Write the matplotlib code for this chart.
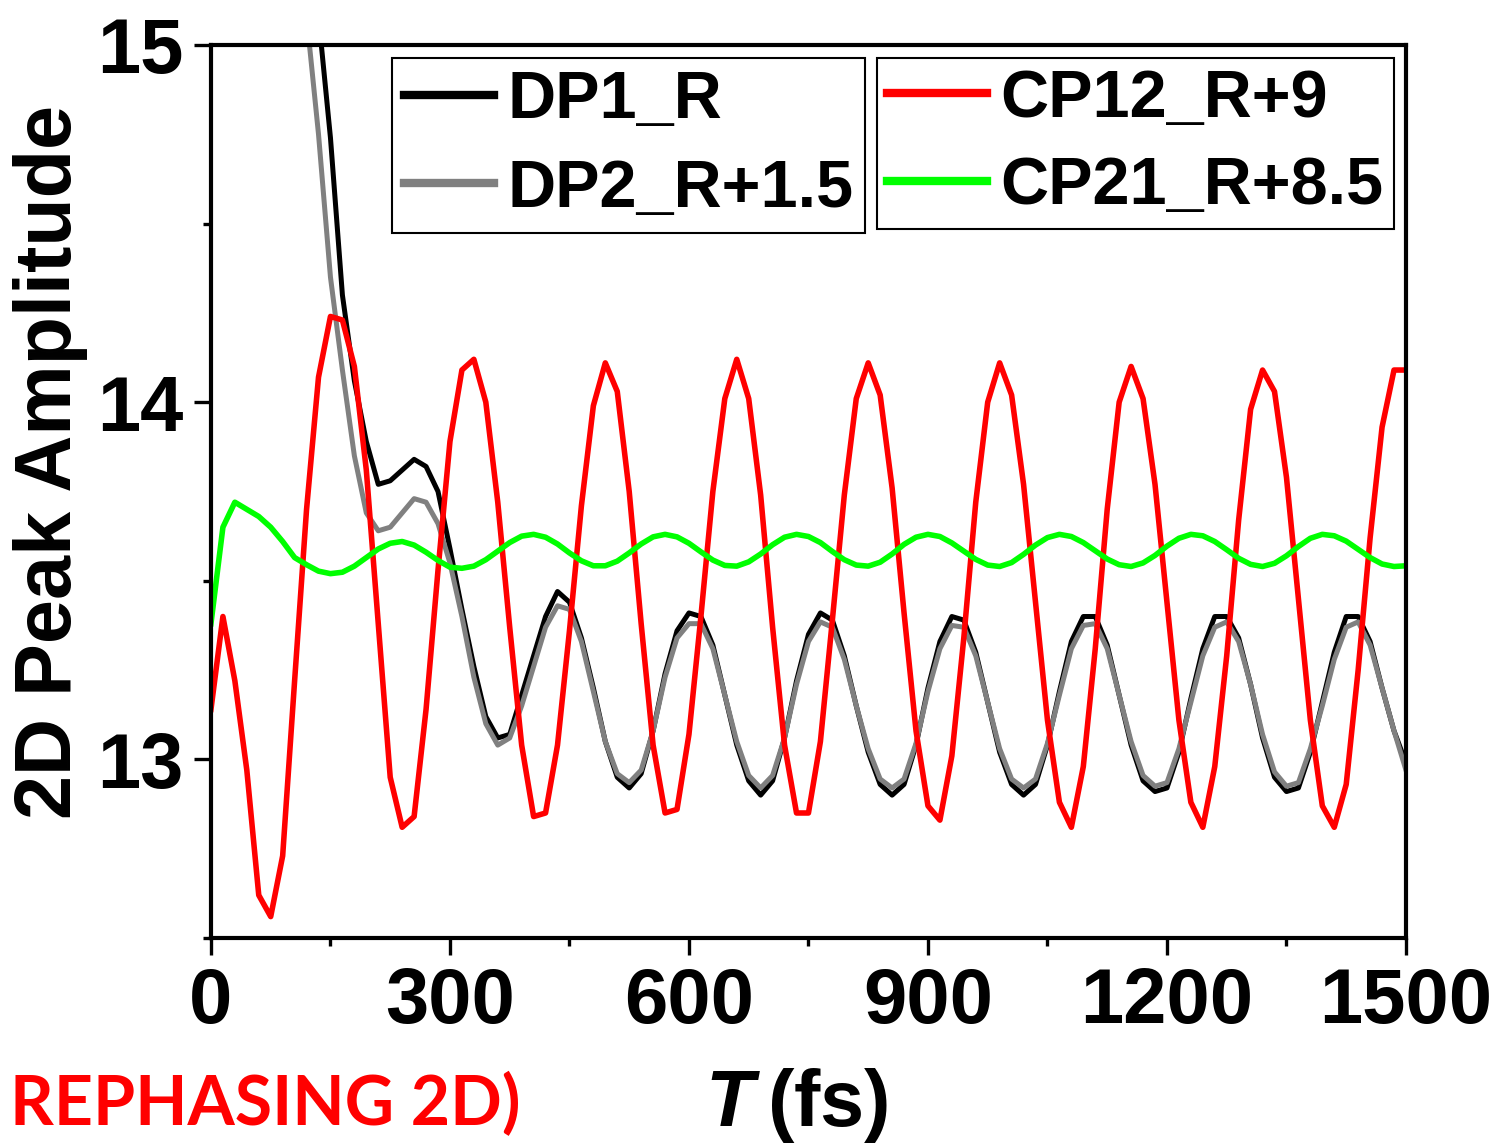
import numpy as np
import matplotlib
matplotlib.use('Agg')
import matplotlib.pyplot as plt

plt.rcParams['font.family'] = ['Liberation Sans Narrow', 'Liberation Sans', 'DejaVu Sans']
plt.rcParams['font.weight'] = 'bold'
plt.rcParams['mathtext.fontset'] = 'custom'
plt.rcParams['mathtext.bfit'] = 'Liberation Sans:italic:bold'

# waiting time T (fs), sampled every 15 fs
time_fs = np.arange(0, 1501, 15)

dp1 = [19.6, 19.1, 18.6, 18.0, 17.4, 16.8, 16.3, 15.85, 15.45, 15.08,
       14.74, 14.30, 14.06, 13.89, 13.77, 13.78, 13.81, 13.84, 13.82, 13.75,
       13.59, 13.42, 13.26, 13.12, 13.06, 13.07, 13.18, 13.29, 13.40, 13.47,
       13.44, 13.34, 13.20, 13.05, 12.95, 12.92, 12.96, 13.08, 13.24, 13.36,
       13.41, 13.40, 13.32, 13.18, 13.04, 12.94, 12.90, 12.94, 13.06, 13.22,
       13.35, 13.41, 13.39, 13.29, 13.15, 13.02, 12.93, 12.90, 12.93, 13.04,
       13.20, 13.33, 13.40, 13.39, 13.30, 13.16, 13.02, 12.93, 12.90, 12.93,
       13.04, 13.19, 13.33, 13.40, 13.40, 13.32, 13.18, 13.04, 12.94, 12.91,
       12.92, 13.02, 13.17, 13.31, 13.40, 13.40, 13.34, 13.21, 13.06, 12.95,
       12.91, 12.92, 13.02, 13.16, 13.30, 13.40, 13.40, 13.33, 13.20, 13.08,
       12.99]

dp2 = [19.2, 18.7, 18.2, 17.6, 17.0, 16.4, 15.9, 15.45, 15.08, 14.75,
       14.35, 14.09, 13.85, 13.69, 13.64, 13.65, 13.69, 13.73, 13.72, 13.66,
       13.55, 13.40, 13.23, 13.10, 13.04, 13.06, 13.15, 13.26, 13.37, 13.43,
       13.42, 13.33, 13.19, 13.05, 12.96, 12.935, 12.97, 13.08, 13.23, 13.34,
       13.38, 13.38, 13.31, 13.18, 13.05, 12.955, 12.92, 12.955, 13.06, 13.21,
       13.33, 13.385, 13.37, 13.28, 13.15, 13.03, 12.945, 12.92, 12.945, 13.045,
       13.19, 13.31, 13.375, 13.37, 13.29, 13.16, 13.03, 12.945, 12.92, 12.945,
       13.045, 13.18, 13.31, 13.375, 13.38, 13.31, 13.18, 13.05, 12.955, 12.925,
       12.935, 13.03, 13.16, 13.29, 13.37, 13.385, 13.33, 13.21, 13.07, 12.965,
       12.925, 12.935, 13.03, 13.15, 13.28, 13.37, 13.385, 13.32, 13.20, 13.08,
       12.97]

cp12 = [13.14, 13.40, 13.22, 12.97, 12.62, 12.56, 12.73, 13.22, 13.70, 14.07,
        14.24, 14.23, 14.10, 13.81, 13.38, 12.95, 12.81, 12.84, 13.14, 13.53,
        13.89, 14.09, 14.12, 14.00, 13.72, 13.37, 13.04, 12.84, 12.85, 13.04,
        13.36, 13.71, 13.99, 14.11, 14.03, 13.75, 13.38, 13.04, 12.85, 12.86,
        13.07, 13.40, 13.75, 14.01, 14.12, 14.01, 13.74, 13.37, 13.04, 12.85,
        12.85, 13.05, 13.39, 13.74, 14.01, 14.11, 14.02, 13.76, 13.41, 13.08,
        12.87, 12.83, 13.01, 13.34, 13.72, 14.00, 14.11, 14.02, 13.77, 13.44,
        13.11, 12.88, 12.81, 12.98, 13.31, 13.70, 14.00, 14.10, 14.01, 13.77,
        13.44, 13.11, 12.88, 12.81, 12.98, 13.29, 13.67, 13.98, 14.09, 14.03,
        13.79, 13.45, 13.11, 12.87, 12.81, 12.93, 13.25, 13.62, 13.93, 14.09,
        14.09]

cp21 = [13.38, 13.65, 13.72, 13.70, 13.68, 13.65, 13.61, 13.565, 13.545, 13.527,
        13.52, 13.524, 13.541, 13.565, 13.589, 13.605, 13.61, 13.600, 13.580, 13.557,
        13.538, 13.535, 13.541, 13.559, 13.583, 13.607, 13.625, 13.63, 13.622, 13.603,
        13.578, 13.556, 13.542, 13.542, 13.555, 13.578, 13.603, 13.623, 13.63, 13.623,
        13.605, 13.581, 13.558, 13.543, 13.541, 13.553, 13.575, 13.601, 13.622, 13.63,
        13.624, 13.607, 13.582, 13.559, 13.544, 13.541, 13.552, 13.575, 13.602, 13.622,
        13.63, 13.624, 13.606, 13.583, 13.560, 13.544, 13.540, 13.551, 13.574, 13.600,
        13.621, 13.63, 13.624, 13.607, 13.584, 13.561, 13.545, 13.540, 13.550, 13.571,
        13.597, 13.619, 13.63, 13.626, 13.610, 13.587, 13.563, 13.546, 13.540, 13.549,
        13.570, 13.596, 13.619, 13.63, 13.626, 13.611, 13.588, 13.565, 13.547, 13.540,
        13.542]

fig = plt.figure(figsize=(14.93, 11.47), dpi=100)
ax = fig.add_axes([0.1413, 0.1822, 0.8004, 0.7786])

l1, = ax.plot(time_fs, dp1, color='black', lw=3.6, label='DP1_R')
l2, = ax.plot(time_fs, dp2, color='#808080', lw=3.6, label='DP2_R+1.5')
l3, = ax.plot(time_fs, cp12, color='#ff0000', lw=4.0, label='CP12_R+9')
l4, = ax.plot(time_fs, cp21, color='#00ff00', lw=4.0, label='CP21_R+8.5')

ax.set_xlim(0, 1500)
ax.set_ylim(12.5, 15)
ax.set_xticks([0, 300, 600, 900, 1200, 1500])
ax.set_xticks(np.arange(150, 1500, 300), minor=True)
ax.set_yticks([13, 14, 15])
ax.set_yticks([12.5, 13.5, 14.5], minor=True)
for s in ax.spines.values():
    s.set_linewidth(3)
ax.tick_params(which='major', direction='out', length=12, width=2.4,
               labelsize=56, pad=8)
ax.tick_params(which='minor', direction='out', length=6, width=2.4)

ax.set_ylabel('2D Peak Amplitude', fontsize=57, fontweight='bold', va='center')
ax.yaxis.set_label_coords(-0.134, 0.533)
ax.set_xlabel(r'$\mathbfit{T}\,$(fs)', fontsize=57, fontweight='bold', va='center')
ax.xaxis.set_label_coords(0.49, -0.188)

leg_a = ax.legend(handles=[l1, l2], loc='upper left', bbox_to_anchor=(0.1515, 0.9854),
                  fontsize=48, frameon=True, fancybox=False, edgecolor='black',
                  framealpha=1, borderaxespad=0, borderpad=0.18, handlelength=1.35,
                  handletextpad=0.2, labelspacing=0.4)
leg_a.get_frame().set_linewidth(1.5)
for h in leg_a.get_lines():
    h.set_linewidth(6)
ax.add_artist(leg_a)
leg_b = ax.legend(handles=[l3, l4], loc='upper left', bbox_to_anchor=(0.557, 0.9854),
                  fontsize=48, frameon=True, fancybox=False, edgecolor='black',
                  framealpha=1, borderaxespad=0, borderpad=0.16, handlelength=1.5,
                  handletextpad=0.2, labelspacing=0.38)
leg_b.get_frame().set_linewidth(1.5)
for h in leg_b.get_lines():
    h.set_linewidth(6)

fig.text(520 / 1493, 1 - 1125 / 1147, 'REPHASING 2D)', color='#ff0000',
         fontsize=49, fontweight='bold', family=['Lato', 'DejaVu Sans'],
         ha='right', va='baseline')

fig.savefig('out.png', dpi=100)
